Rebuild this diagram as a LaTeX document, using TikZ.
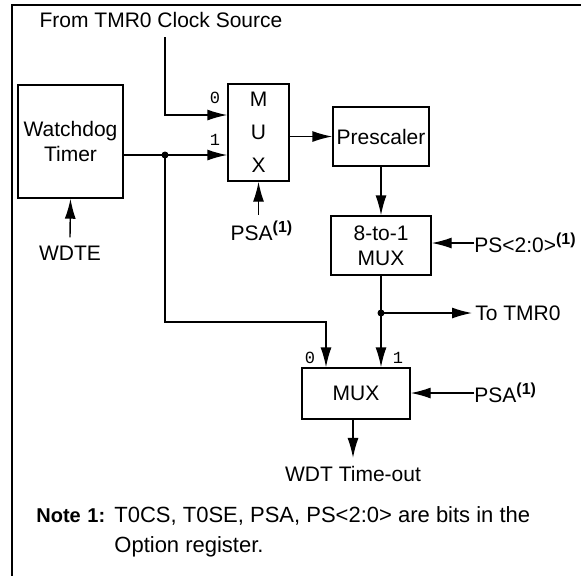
\documentclass[tikz,border=0pt]{standalone}
\usepackage{fontspec}
\setmainfont{Liberation Sans}
\newfontfamily\pinfont{Liberation Mono}
\usetikzlibrary{arrows.meta, positioning, calc}
\newcommand\noteref{\textsuperscript{\fontsize{8}{9}\selectfont\bfseries(1)}}
\tikzset{
    block/.style={rectangle, draw, line width=0.7pt, align=center, inner sep=0pt},
    arrow/.style={-{Latex[length=10pt,width=5.5pt]}, line width=0.7pt},
    dot/.style={circle, fill, inner sep=0pt, minimum size=3.5pt},
    bitlbl/.style={inner sep=0pt, font=\pinfont\fontsize{8.5}{10}\selectfont},
    lbl/.style={inner sep=0pt},
    notelbl/.style={inner sep=0pt, anchor=base west, font=\fontsize{11}{13}\selectfont}
}

\begin{document}
\begin{tikzpicture}[x=0.5pt, y=-0.5pt, font=\fontsize{10.5}{12.5}\selectfont]
    \useasboundingbox (0,0) rectangle (581,575);
    \draw[line width=0.9pt] (12,590) |- (600,5);

    % blocks
    \node[block, minimum width=52.5pt, minimum height=56.5pt] (wdt) at (70.5,141.5) {Watchdog\\Timer};
    \node[block, minimum width=30.5pt, minimum height=48.5pt, font=\fontsize{10.5}{16.5}\selectfont] (mux1) at (258.5,132.5) {M\\U\\X};
    \node[block, minimum width=48pt, minimum height=29.5pt] (pre) at (381,136.5) {Prescaler};
    \node[block, minimum width=50pt, minimum height=29.5pt] (mux8) at (381,245.5) {8-to-1\\MUX};
    \node[block, minimum width=54pt, minimum height=25.5pt] (mux2) at (356,393.5) {MUX};

    % signal names
    \node[lbl] (clk) at (161,20) {From TMR0 Clock Source};
    \node[lbl] (wdte) at (70,253) {WDTE};
    \node[lbl] (psa1) at (262,231) {PSA\noteref};
    \node[lbl, anchor=west] (ps) at (474,243) {PS<2:0>\noteref};
    \node[lbl, anchor=west] (psa2) at (474,393) {PSA\noteref};
    \node[lbl, anchor=west] (tmr) at (475,313) {To TMR0};
    \node[lbl] (wdto) at (353,474) {WDT Time-out};

    % mux input numbers
    \node[bitlbl] (m1l0) at (215,98) {0};
    \node[bitlbl] (m1l1) at (215,140) {1};
    \node[bitlbl] (m2l0) at (310,358) {0};
    \node[bitlbl] (m2l1) at (398,358) {1};

    % wiring
    \coordinate (clktop) at (165,37);
    \coordinate (bend) at (326,322);
    \node[dot] (j1) at (165,155) {};
    \node[dot] (j2) at (381,313) {};

    \draw[arrow] (clktop) |- ([yshift=8.75pt]mux1.west);
    \draw[arrow] ([yshift=-6.75pt]wdt.east) -- ([yshift=-11.25pt]mux1.west);
    \draw[arrow] (j1.center) |- (bend) -- (bend |- mux2.north);
    \draw[arrow] (mux1.east |- pre.west) -- (pre.west);
    \draw[arrow] (pre.south) -- (mux8.north);
    \draw[arrow] (mux8.south) -- (mux2.north -| mux8.south);
    \draw[arrow] (j2.center) -- ([xshift=-1.5pt]tmr.west);
    \draw[arrow] (ps.west) -- (mux8.east |- ps.west);
    \draw[arrow] (psa2.west) -- (mux2.east |- psa2.west);
    \draw[arrow] ([yshift=3pt]psa1.north -| mux1.south) -- (mux1.south);
    \draw[arrow] ([yshift=4pt]wdte.north) -- (wdt.south);
    \draw[arrow] ([xshift=-1.5pt]mux2.south) -- ([xshift=-1.5pt, yshift=4pt]mux2.south |- wdto.north);

    % note
    \node[notelbl, font=\fontsize{10}{12}\selectfont\bfseries] (note) at (36,522) {Note};
    \node[notelbl, font=\fontsize{10}{12}\selectfont\bfseries] (notenum) at (87,522) {1:};
    \node[notelbl] (notetxt) at (114,522) {T0CS, T0SE, PSA, PS<2:0> are bits in the};
    \node[notelbl] (notetxt2) at (114,552) {Option register.};
\end{tikzpicture}
\end{document}
